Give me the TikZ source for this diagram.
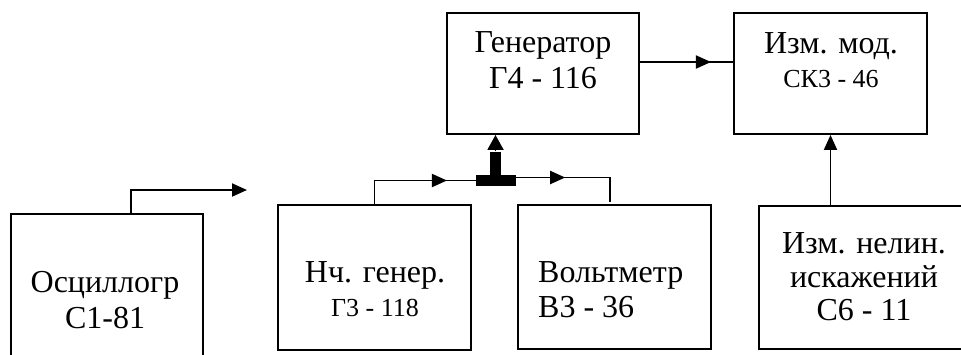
\documentclass[tikz,border=0pt]{standalone}
\usepackage{fontspec}
\setmainfont{Liberation Serif}
\usetikzlibrary{arrows.meta,decorations.markings}
\tikzset{
  box/.style={draw, line width=1.9pt, rectangle, inner sep=0pt},
  conn/.style={line width=1.9pt},
  arrowend/.style={-{Triangle[length=15pt,width=13pt]}},
  midarrow/.style={postaction={decorate}, decoration={markings,
      mark=at position #1 with {\arrow{Triangle[length=15pt,width=13pt]}}}},
  big/.style={font=\fontsize{32}{36}\selectfont, inner sep=0pt, anchor=base},
  small/.style={font=\fontsize{26}{30}\selectfont, inner sep=0pt, anchor=base},
}
\begin{document}
\begin{tikzpicture}[x=1pt,y=-1pt]
\fill[white] (0,0) rectangle (961,354);
\useasboundingbox (0,0) rectangle (961,354);

% boxes
\node[box, minimum width=192pt, minimum height=121pt] (gen) at (543,73.5) {};
\node[box, minimum width=193pt, minimum height=121pt] (mod) at (830.5,73.5) {};
\node[box, minimum width=192pt, minimum height=158pt] (osc) at (107,293) {};
\node[box, minimum width=193pt, minimum height=145pt] (nch) at (374.5,277.5) {};
\node[box, minimum width=193pt, minimum height=144pt] (volt) at (614.5,277) {};
\node[box, minimum width=210pt, minimum height=143pt] (nelin) at (864,277.5) {};

% texts
\node[big] (gent1) at (543,52) {Генератор};
\node[big] (gent2) at (543,88) {Г4 - 116};
\node[big] (modt1) at (831,53) {Изм. мод.};
\node[small] (modt2) at (831,87) {СК3 - 46};
\node[big] (osct1) at (105,292) {Осциллогр};
\node[big] (osct2) at (105,328) {С1-81};
\node[big] (ncht1) at (375,282) {Нч. генер.};
\node[small] (ncht2) at (375,316) {Г3 - 118};
\node[big, anchor=base west] (voltt1) at (538,282) {Вольтметр};
\node[big, anchor=base west] (voltt2) at (538,317) {В3 - 36};
\node[big] (nelt1) at (864,253) {Изм. нелин.};
\node[big] (nelt2) at (864,287) {искажений};
\node[big] (nelt3) at (864,320) {С6 - 11};

% connectors
\draw[conn, midarrow=71pt] ([yshift=11.5pt]gen.east) -- ([yshift=11.5pt]mod.west);
\draw[conn, arrowend] (nelin.north -| mod.south) -- (mod.south);

\coordinate (oscend) at (247,190);
\draw[conn, arrowend] ([xshift=24pt]osc.north) |- (oscend);

% junction
\node[fill=black, rectangle, inner sep=0pt, minimum width=40pt, minimum height=11pt] (tee) at (496,180.5) {};
\fill[black] (490,152) rectangle (501,176);
\draw[conn, -{Triangle[length=15pt,width=16pt]}] (495.5,151) -- (gen.south -| 495.5,0);
\draw[conn, midarrow=96pt] (nch.north) |- (tee.west);
\coordinate (vin) at (610,202);
\draw[conn, midarrow=49pt] ([yshift=3pt]tee.east) -| (vin);
\end{tikzpicture}
\end{document}
